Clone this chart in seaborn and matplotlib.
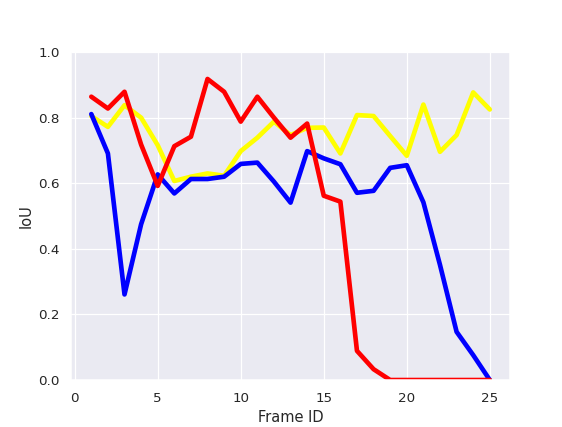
import numpy as np
import pandas as pd
import seaborn as sns
import matplotlib.pyplot as plt

# frame ids and IoU values per tracker
frames = list(range(1, 26))
iou_yellow = [0.805, 0.772, 0.838, 0.800, 0.716, 0.607, 0.620, 0.630, 0.623, 0.698,
              0.739, 0.788, 0.747, 0.769, 0.770, 0.691, 0.808, 0.805, 0.744, 0.684,
              0.840, 0.696, 0.747, 0.877, 0.825]
iou_blue = [0.811, 0.691, 0.261, 0.475, 0.627, 0.569, 0.613, 0.613, 0.620, 0.659,
            0.663, 0.605, 0.541, 0.698, 0.676, 0.658, 0.571, 0.577, 0.647, 0.655,
            0.542, 0.351, 0.147, 0.076, 0.0]
iou_red = [0.864, 0.828, 0.879, 0.718, 0.592, 0.713, 0.742, 0.918, 0.879, 0.788,
           0.864, 0.800, 0.739, 0.782, 0.562, 0.544, 0.089, 0.033, 0.0, 0.0,
           0.0, 0.0, 0.0, 0.0, 0.0]

sns.set_theme()

fig = plt.figure(figsize=(562 / 88, 427 / 88), dpi=88)
fig.subplots_adjust(left=0.127, right=0.907, top=0.878, bottom=0.110)
ax = plt.gca()

#draw order: yellow under blue under red
sns.lineplot(x=frames, y=iou_yellow, color='yellow', linewidth=3.8, ax=ax)
sns.lineplot(x=frames, y=iou_blue, color='blue', linewidth=3.8, ax=ax)
sns.lineplot(x=frames, y=iou_red, color='red', linewidth=3.8, ax=ax)

ax.set_ylim(0, 1)
ax.set_xlabel('Frame ID')
ax.set_ylabel('IoU')

plt.savefig('out.png', dpi=88)
